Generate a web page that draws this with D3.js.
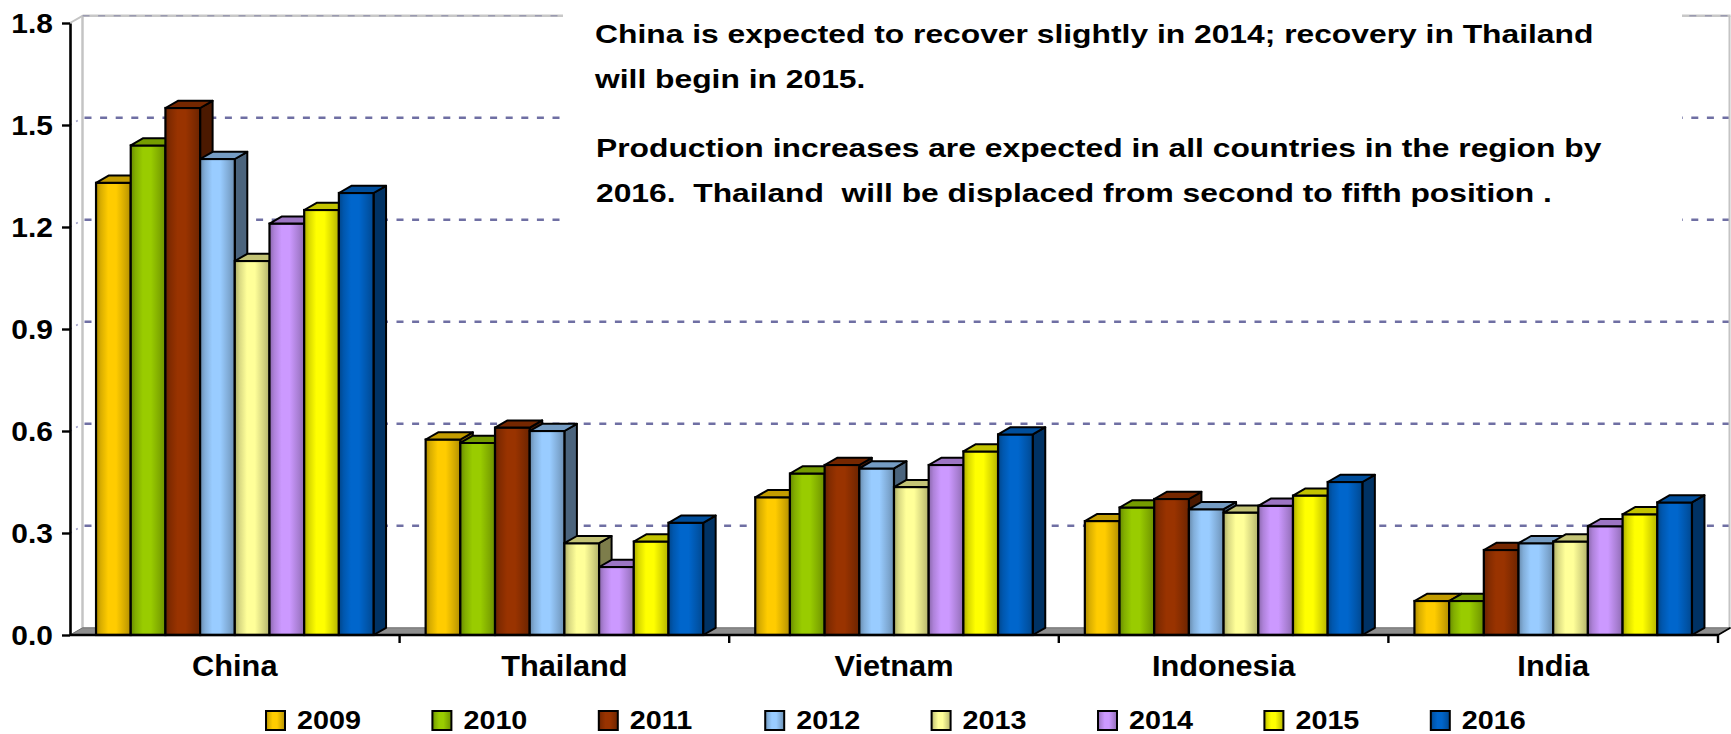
<!DOCTYPE html>
<html>
<head>
<meta charset="utf-8">
<script src="https://cdn.jsdelivr.net/npm/d3@7"></script>
<style>
  html, body { margin: 0; padding: 0; background: #ffffff; }
  svg { display: block; }
  text { font-family: "Liberation Sans", Arial, sans-serif; font-weight: bold; fill: #000; white-space: pre; }
</style>
</head>
<body>
<svg id="chart" width="1731" height="734"></svg>
<script>
// ---- data ----
const categories = ["China", "Thailand", "Vietnam", "Indonesia", "India"];
const years = ["2009", "2010", "2011", "2012", "2013", "2014", "2015", "2016"];
const seriesColors = ["#FFCC00", "#99CC00", "#993300", "#99CCFF", "#FFFF99", "#CC99FF", "#FFFF00", "#0066CC"];
// production by year, in the order of `categories`
const v2009 = [1.33, 0.575, 0.405, 0.335, 0.10];
const v2010 = [1.44, 0.565, 0.475, 0.375, 0.10];
const v2011 = [1.55, 0.61, 0.50, 0.40, 0.25];
const v2012 = [1.40, 0.60, 0.49, 0.37, 0.27];
const v2013 = [1.10, 0.27, 0.435, 0.36, 0.275];
const v2014 = [1.21, 0.20, 0.50, 0.38, 0.32];
const v2015 = [1.25, 0.275, 0.54, 0.41, 0.355];
const v2016 = [1.30, 0.33, 0.59, 0.45, 0.39];
const seriesValues = [v2009, v2010, v2011, v2012, v2013, v2014, v2015, v2016];
const yTicks = [0, 0.3, 0.6, 0.9, 1.2, 1.5, 1.8];
const noteParagraph1 = ["China is expected to recover slightly in 2014; recovery in Thailand", "will begin in 2015."];
const noteParagraph2 = ["Production increases are expected in all countries in the region by", "2016.  Thailand  will be displaced from second to fifth position ."];

// ---- layout ----
const svg = d3.select("#chart");
const plotLeft = 70, plotRight = 1718, plotTop = 23, plotBottom = 635;
const dX = 12.5, dY = -7.2;           // 3-D depth offset of walls and bars
const groupFrac = 0.842;              // share of each category slot filled by the bar cluster

const y = d3.scaleLinear().domain([0, 1.8]).range([plotBottom, plotTop]);
const x0 = d3.scaleBand().domain(categories).range([plotLeft, plotRight]).padding(0);
const groupW = x0.bandwidth() * groupFrac;
const groupOff = (x0.bandwidth() - groupW) / 2;
const x1 = d3.scaleBand().domain(years).range([0, groupW]).padding(0);

// ---- gradients ----
const defs = svg.append("defs");
seriesColors.forEach((c, i) => {
  const base = d3.color(c);
  const g = defs.append("linearGradient").attr("id", "front" + i)
    .attr("x1", "0%").attr("x2", "100%").attr("y1", "0%").attr("y2", "0%");
  [[0, base.darker(1.1)], [0.14, base.darker(0.45)], [0.35, base], [0.58, base],
   [0.84, base.darker(0.55)], [1, base.darker(1.0)]].forEach(([o, col]) => {
    g.append("stop").attr("offset", o).attr("stop-color", col.formatHex());
  });
});

// ---- walls and gridlines ----
const walls = svg.append("g");
const backY = v => y(v) + dY;
// gridlines on the back wall
walls.selectAll("line.grid").data(yTicks.filter(t => t > 0 && t < 1.8)).join("line")
  .attr("class", "grid")
  .attr("x1", plotLeft + dX + 2).attr("x2", plotRight + dX)
  .attr("y1", d => backY(d)).attr("y2", d => backY(d))
  .attr("stroke", "#6f6fa3").attr("stroke-width", 2.6).attr("stroke-dasharray", "7,8.6");
// gridline traces on the side wall
walls.selectAll("line.sidegrid").data(yTicks.filter(t => t > 0 && t < 1.8)).join("line")
  .attr("class", "sidegrid")
  .attr("x1", plotLeft).attr("x2", plotLeft + dX)
  .attr("y1", d => y(d)).attr("y2", d => backY(d))
  .attr("stroke", "#a0a0c8").attr("stroke-width", 1.5).attr("stroke-dasharray", "2,5");
// wall edges
walls.append("line").attr("x1", plotLeft + dX).attr("x2", plotLeft + dX)
  .attr("y1", backY(1.8)).attr("y2", backY(0)).attr("stroke", "#c4c4c4").attr("stroke-width", 2.5);
walls.append("line").attr("x1", plotLeft).attr("x2", plotLeft + dX)
  .attr("y1", y(1.8)).attr("y2", backY(1.8)).attr("stroke", "#c4c4c4").attr("stroke-width", 2);
walls.append("line").attr("x1", plotLeft + dX).attr("x2", plotRight + dX)
  .attr("y1", backY(1.8)).attr("y2", backY(1.8)).attr("stroke", "#c8c8c8").attr("stroke-width", 2.5);
walls.append("line").attr("x1", plotLeft + dX).attr("x2", plotRight + dX)
  .attr("y1", backY(1.8)).attr("y2", backY(1.8)).attr("stroke", "#9a9ab0").attr("stroke-width", 1.6)
  .attr("stroke-dasharray", "7,8.6");
walls.append("line").attr("x1", plotRight + dX - 1).attr("x2", plotRight + dX - 1)
  .attr("y1", backY(1.8)).attr("y2", backY(0)).attr("stroke", "#c4c4c4").attr("stroke-width", 2);

// floor
walls.append("polygon")
  .attr("points", [[plotLeft, y(0)], [plotLeft + dX, backY(0)], [plotRight + dX, backY(0)], [plotRight, y(0)]].map(p => p.join(",")).join(" "))
  .attr("fill", "#8e8e8e").attr("stroke", "#6e6e6e").attr("stroke-width", 1);

// white note box over the upper wall
svg.append("rect").attr("x", 563).attr("y", 0).attr("width", 1119).attr("height", 226).attr("fill", "#ffffff");

// ---- bars ----
const barsG = svg.append("g");
categories.forEach((cat, ci) => {
  years.forEach((yr, si) => {
    const v = seriesValues[si][ci];
    const base = d3.color(seriesColors[si]);
    const bx = x0(cat) + groupOff + x1(yr);
    const bw = x1.bandwidth();
    const yt = y(v), yb = y(0);
    const g = barsG.append("g");
    const pts = a => a.map(p => p.join(",")).join(" ");
    g.append("polygon")
      .attr("points", pts([[bx + bw, yt], [bx + bw + dX, yt + dY], [bx + bw + dX, yb + dY], [bx + bw, yb]]))
      .attr("fill", base.darker(2).formatHex()).attr("stroke", "#000").attr("stroke-width", 2).attr("stroke-linejoin", "round");
    g.append("rect").attr("x", bx).attr("y", yt).attr("width", bw).attr("height", yb - yt)
      .attr("fill", `url(#front${si})`).attr("stroke", "#000").attr("stroke-width", 2.2);
    g.append("polygon")
      .attr("points", pts([[bx, yt], [bx + dX, yt + dY], [bx + bw + dX, yt + dY], [bx + bw, yt]]))
      .attr("fill", base.darker(0.75).formatHex()).attr("stroke", "#000").attr("stroke-width", 2).attr("stroke-linejoin", "round");
  });
});

// ---- axes ----
const yAxis = svg.append("g").attr("transform", `translate(${plotLeft},0)`)
  .call(d3.axisLeft(y).tickValues(yTicks).tickFormat(d3.format(".1f")).tickSize(8).tickSizeOuter(0));
yAxis.select(".domain").attr("stroke", "#000").attr("stroke-width", 2.6);
yAxis.selectAll(".tick line").attr("stroke", "#000").attr("stroke-width", 2.4);
const tickSx = 1.09;
yAxis.selectAll(".tick text")
  .attr("font-size", 27.5).attr("font-family", null)
  .attr("transform", `scale(${tickSx},1)`)
  .attr("x", -17 / tickSx).attr("dy", "0.36em");

const xAxis = svg.append("g");
xAxis.append("line").attr("x1", plotLeft).attr("x2", plotRight).attr("y1", y(0)).attr("y2", y(0))
  .attr("stroke", "#000").attr("stroke-width", 2.6);
xAxis.selectAll("line.xt").data(categories.slice(1).map(c => x0(c)).concat([x0(categories[categories.length - 1]) + x0.bandwidth()]))
  .join("line").attr("class", "xt")
  .attr("x1", d => d).attr("x2", d => d).attr("y1", y(0)).attr("y2", y(0) + 8)
  .attr("stroke", "#000").attr("stroke-width", 2.4);
// floor corner on the right
xAxis.append("line").attr("x1", plotRight).attr("y1", y(0)).attr("x2", plotRight + dX).attr("y2", backY(0))
  .attr("stroke", "#000").attr("stroke-width", 1.6);

function stretchedText(sel, x, yy, str, size, sx, anchor) {
  return sel.append("text")
    .attr("transform", `translate(${x},${yy}) scale(${sx},1)`)
    .attr("font-size", size).attr("text-anchor", anchor || "start")
    .attr("xml:space", "preserve").text(str);
}

categories.forEach(c => {
  stretchedText(svg, x0(c) + x0.bandwidth() / 2, 676, c, 29, 1.06, "middle");
});

// ---- legend ----
const legend = svg.append("g");
years.forEach((yr, i) => {
  const lx = 266 + i * 166.4;
  legend.append("rect").attr("x", lx).attr("y", 711).attr("width", 19).attr("height", 19)
    .attr("fill", `url(#front${i})`).attr("stroke", "#000").attr("stroke-width", 2);
  stretchedText(legend, lx + 31, 728.5, yr, 25, 1.15, "start");
});

// ---- notes ----
const notes = svg.append("g");
stretchedText(notes, 595, 43, noteParagraph1[0], 26.5, 1.2);
stretchedText(notes, 595, 88, noteParagraph1[1], 26.5, 1.2);
stretchedText(notes, 596, 157, noteParagraph2[0], 26.5, 1.2);
stretchedText(notes, 596, 202, noteParagraph2[1], 26.5, 1.2);
</script>
</body>
</html>
